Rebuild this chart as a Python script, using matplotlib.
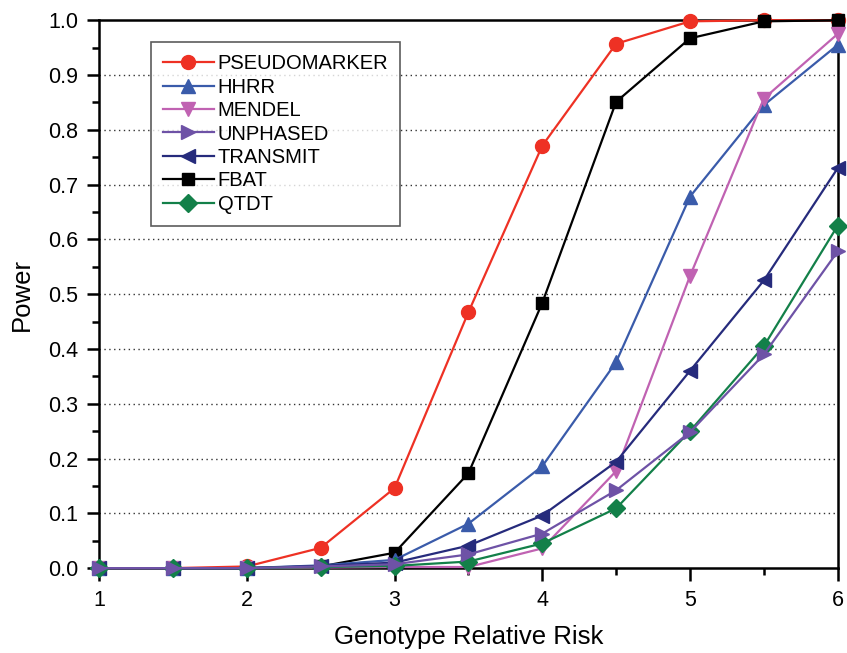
import matplotlib.pyplot as plt
from matplotlib.ticker import MultipleLocator

plt.rcParams['font.family'] = ['Liberation Sans', 'DejaVu Sans']

grr = [1, 1.5, 2, 2.5, 3, 3.5, 4, 4.5, 5, 5.5, 6]

pseudomarker = [0, 0, 0.003, 0.037, 0.146, 0.467, 0.771, 0.957, 0.998, 1.0, 1.0]
hhrr = [0, 0, 0, 0.005, 0.015, 0.081, 0.186, 0.376, 0.678, 0.845, 0.955]
mendel = [0, 0, 0, 0.001, 0.002, 0.002, 0.036, 0.177, 0.533, 0.857, 0.975]
unphased = [0, 0, 0, 0.003, 0.007, 0.025, 0.063, 0.142, 0.248, 0.390, 0.578]
transmit = [0, 0, 0, 0.004, 0.010, 0.041, 0.096, 0.194, 0.360, 0.525, 0.730]
fbat = [0, 0, 0, 0.003, 0.028, 0.173, 0.484, 0.851, 0.967, 0.998, 1.0]
qtdt = [0, 0, 0, 0.002, 0.004, 0.012, 0.045, 0.109, 0.250, 0.405, 0.625]

series = [
    ('PSEUDOMARKER', pseudomarker, '#EE3124', 'o'),
    ('HHRR', hhrr, '#3A5BAA', '^'),
    ('MENDEL', mendel, '#C062B2', 'v'),
    ('UNPHASED', unphased, '#6E52A6', '>'),
    ('TRANSMIT', transmit, '#262B7C', '<'),
    ('FBAT', fbat, '#000000', 's'),
    ('QTDT', qtdt, '#138049', 'D'),
]
# drawing order so the purple markers sit on top at the low end
zorder = {'PSEUDOMARKER': 3, 'FBAT': 4, 'HHRR': 5, 'MENDEL': 6,
          'TRANSMIT': 7, 'QTDT': 8, 'UNPHASED': 9}

fig = plt.figure(figsize=(8.47, 6.53), dpi=100)
ax = fig.add_axes([0.117, 0.130, 0.872, 0.839])

for name, vals, col, mk in series:
    ms = 10
    if mk in ('D', 's'):
        ms = 9
    ax.plot(grr, vals, color=col, marker=mk, markersize=ms, linewidth=1.6,
            label=name, zorder=zorder[name], clip_on=False)

ax.set_xlim(1, 6)
ax.set_ylim(0, 1.0)
ax.xaxis.set_major_locator(MultipleLocator(1))
ax.xaxis.set_minor_locator(MultipleLocator(0.5))
ax.yaxis.set_major_locator(MultipleLocator(0.1))
ax.yaxis.set_minor_locator(MultipleLocator(0.05))
ax.yaxis.set_major_formatter(lambda v, p: f'{v:.1f}')

ax.tick_params(which='major', direction='out', length=9, width=1.8,
               labelsize=15.5, pad=6)
ax.tick_params(which='minor', direction='out', length=5, width=1.8)
ax.tick_params(axis='x', pad=7)

for sp in ax.spines.values():
    sp.set_linewidth(1.8)

for v in [0.1, 0.2, 0.3, 0.4, 0.5, 0.6, 0.7, 0.8, 0.9]:
    ax.axhline(v, color='#333333', linestyle=(0, (1, 2.5)), linewidth=1.0, zorder=1)

ax.set_xlabel('Genotype Relative Risk', fontsize=18.5, labelpad=10)
ax.set_ylabel('Power', fontsize=18.5, labelpad=10)

leg = ax.legend(loc='upper left', bbox_to_anchor=(0.0704, 0.960), fontsize=14.5,
                frameon=True, fancybox=False, edgecolor='#333333',
                handlelength=2.5, handletextpad=0.2, labelspacing=0.22,
                borderpad=0.6, borderaxespad=0)
leg.get_frame().set_linewidth(1.2)

fig.savefig('out.png', dpi=100)
